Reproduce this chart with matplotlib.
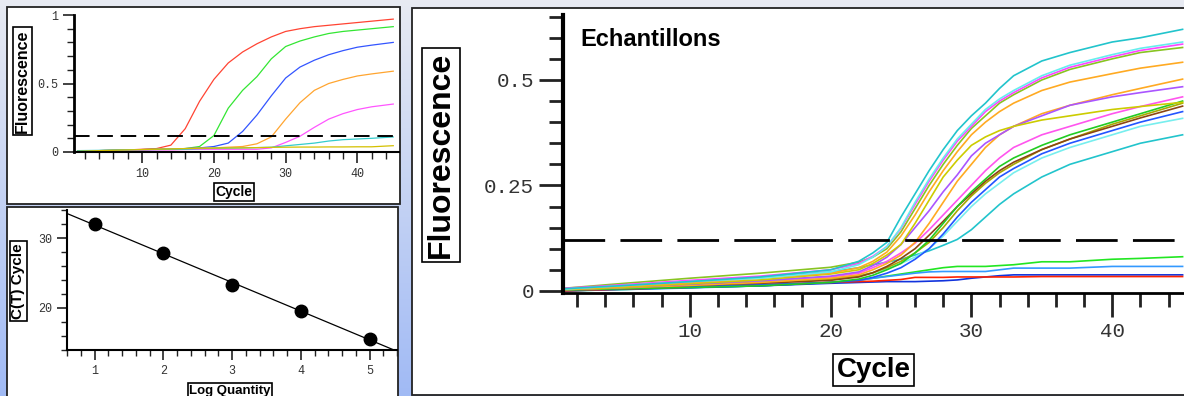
import numpy as np
import matplotlib
matplotlib.use("Agg")
import matplotlib.pyplot as plt
from matplotlib.patches import Rectangle
from matplotlib.ticker import MultipleLocator

# ---- top-left: standards amplification ----
cyc_std = [1, 4, 8, 12, 14, 16, 18, 20, 22, 24, 26, 28, 30, 32, 34, 36, 38, 40, 42, 45]
std_red = [0.005, 0.01, 0.015, 0.025, 0.05, 0.17, 0.37, 0.53, 0.65, 0.73, 0.79, 0.84, 0.88, 0.90, 0.915, 0.925, 0.935, 0.945, 0.955, 0.97]
std_green = [0.005, 0.01, 0.015, 0.02, 0.02, 0.025, 0.04, 0.12, 0.32, 0.45, 0.55, 0.68, 0.77, 0.81, 0.84, 0.865, 0.88, 0.89, 0.90, 0.915]
std_blue = [0.005, 0.01, 0.015, 0.02, 0.022, 0.025, 0.03, 0.04, 0.065, 0.15, 0.27, 0.41, 0.54, 0.62, 0.67, 0.71, 0.74, 0.765, 0.78, 0.80]
std_orange = [0.005, 0.01, 0.015, 0.02, 0.022, 0.025, 0.028, 0.03, 0.035, 0.04, 0.06, 0.11, 0.24, 0.36, 0.45, 0.50, 0.53, 0.555, 0.57, 0.59]
std_magenta = [0.005, 0.008, 0.01, 0.015, 0.015, 0.018, 0.02, 0.02, 0.02, 0.02, 0.02, 0.03, 0.07, 0.115, 0.18, 0.24, 0.28, 0.31, 0.33, 0.35]
std_cyan = [0.01, 0.012, 0.015, 0.018, 0.02, 0.02, 0.025, 0.027, 0.028, 0.03, 0.032, 0.035, 0.045, 0.055, 0.065, 0.08, 0.09, 0.095, 0.10, 0.11]
std_yellow = [0.005, 0.01, 0.015, 0.02, 0.022, 0.025, 0.027, 0.028, 0.03, 0.03, 0.032, 0.034, 0.035, 0.036, 0.036, 0.037, 0.037, 0.038, 0.038, 0.046]
std_colors = ["#ff4433", "#33e633", "#3355ff", "#ffa530", "#ff55ff", "#33cccc", "#d4c000"]
threshold = 0.12

# ---- bottom-left: standard curve ----
log_qty = [1, 2, 3, 4, 5]
ct_vals = [32.0, 27.8, 23.3, 19.6, 15.6]

# ---- right: samples ----
cyc_smp = [1, 5, 10, 15, 20, 22, 23, 24, 25, 26, 27, 28, 29, 30, 31, 32, 33, 35, 37, 40, 42, 45]
smp_cyan_top = [0.005, 0.012, 0.022, 0.033, 0.05, 0.07, 0.09, 0.115, 0.175, 0.23, 0.285, 0.335, 0.38, 0.415, 0.445, 0.48, 0.51, 0.545, 0.565, 0.59, 0.60, 0.62]
smp_ltcyan_a = [0.004, 0.012, 0.022, 0.03, 0.045, 0.062, 0.08, 0.105, 0.15, 0.21, 0.265, 0.315, 0.36, 0.395, 0.43, 0.455, 0.475, 0.51, 0.535, 0.56, 0.575, 0.59]
smp_magenta_a = [0.006, 0.014, 0.025, 0.035, 0.05, 0.065, 0.082, 0.105, 0.148, 0.205, 0.26, 0.31, 0.355, 0.39, 0.425, 0.45, 0.47, 0.505, 0.53, 0.555, 0.57, 0.585]
smp_olive_a = [0.006, 0.017, 0.03, 0.042, 0.056, 0.068, 0.08, 0.10, 0.14, 0.195, 0.25, 0.30, 0.345, 0.385, 0.415, 0.445, 0.465, 0.50, 0.525, 0.55, 0.565, 0.577]
smp_orange_a = [0.004, 0.01, 0.02, 0.03, 0.042, 0.055, 0.07, 0.092, 0.13, 0.18, 0.235, 0.285, 0.33, 0.37, 0.40, 0.425, 0.445, 0.475, 0.495, 0.515, 0.528, 0.542]
smp_yellow_b = [0.003, 0.008, 0.017, 0.026, 0.04, 0.05, 0.065, 0.085, 0.11, 0.16, 0.215, 0.27, 0.31, 0.345, 0.365, 0.38, 0.39, 0.405, 0.415, 0.43, 0.437, 0.447]
smp_purple_b = [0.003, 0.008, 0.016, 0.024, 0.035, 0.045, 0.06, 0.08, 0.11, 0.15, 0.19, 0.235, 0.275, 0.32, 0.35, 0.37, 0.39, 0.415, 0.44, 0.46, 0.47, 0.484]
smp_orange_b = [0.003, 0.007, 0.013, 0.02, 0.03, 0.038, 0.05, 0.065, 0.085, 0.115, 0.16, 0.21, 0.26, 0.30, 0.34, 0.37, 0.39, 0.42, 0.44, 0.465, 0.48, 0.502]
smp_magenta_c = [0.004, 0.01, 0.018, 0.025, 0.033, 0.042, 0.055, 0.07, 0.09, 0.113, 0.145, 0.18, 0.215, 0.25, 0.285, 0.315, 0.34, 0.37, 0.39, 0.42, 0.437, 0.46]
smp_green_d = [0.002, 0.005, 0.008, 0.012, 0.02, 0.028, 0.037, 0.05, 0.065, 0.09, 0.12, 0.16, 0.20, 0.235, 0.265, 0.295, 0.315, 0.345, 0.37, 0.40, 0.42, 0.45]
smp_brown_d = [0.003, 0.007, 0.013, 0.018, 0.025, 0.033, 0.043, 0.058, 0.077, 0.10, 0.132, 0.165, 0.20, 0.23, 0.26, 0.285, 0.305, 0.335, 0.36, 0.39, 0.41, 0.438]
smp_olive_d = [0.003, 0.008, 0.015, 0.02, 0.028, 0.035, 0.043, 0.055, 0.07, 0.09, 0.115, 0.15, 0.19, 0.225, 0.255, 0.28, 0.30, 0.335, 0.36, 0.395, 0.415, 0.445]
smp_blue_d = [0.002, 0.005, 0.01, 0.015, 0.02, 0.025, 0.032, 0.042, 0.055, 0.075, 0.10, 0.135, 0.175, 0.21, 0.24, 0.27, 0.29, 0.325, 0.35, 0.38, 0.40, 0.425]
smp_ltcyan_d = [0.004, 0.01, 0.017, 0.022, 0.03, 0.036, 0.043, 0.052, 0.065, 0.08, 0.10, 0.13, 0.165, 0.20, 0.23, 0.255, 0.28, 0.315, 0.34, 0.37, 0.39, 0.409]
smp_cyan_low = [0.005, 0.013, 0.023, 0.033, 0.045, 0.055, 0.062, 0.068, 0.075, 0.085, 0.095, 0.108, 0.122, 0.145, 0.175, 0.205, 0.23, 0.27, 0.30, 0.33, 0.35, 0.37]
smp_green_flat = [0.0, 0.003, 0.008, 0.012, 0.02, 0.025, 0.03, 0.035, 0.04, 0.045, 0.05, 0.055, 0.058, 0.058, 0.058, 0.06, 0.062, 0.069, 0.069, 0.075, 0.077, 0.081]
smp_ltblue_flat = [0.0, 0.003, 0.007, 0.012, 0.02, 0.025, 0.03, 0.034, 0.038, 0.042, 0.045, 0.046, 0.046, 0.046, 0.046, 0.05, 0.054, 0.054, 0.054, 0.058, 0.058, 0.058]
smp_blue_flat = [0.0, 0.004, 0.008, 0.012, 0.018, 0.02, 0.021, 0.022, 0.022, 0.022, 0.023, 0.024, 0.026, 0.03, 0.033, 0.036, 0.038, 0.038, 0.038, 0.038, 0.038, 0.038]
smp_red_flat = [0.0, 0.004, 0.009, 0.014, 0.02, 0.022, 0.023, 0.025, 0.027, 0.032, 0.032, 0.032, 0.033, 0.033, 0.033, 0.033, 0.033, 0.034, 0.034, 0.034, 0.034, 0.034]

samples = [
    (smp_green_flat, "#22e622"), (smp_ltblue_flat, "#3399ff"), (smp_blue_flat, "#1133dd"), (smp_red_flat, "#ff2200"),
    (smp_cyan_low, "#22c4cc"), (smp_ltcyan_d, "#77eeee"), (smp_blue_d, "#2255ff"), (smp_olive_d, "#a8a800"),
    (smp_brown_d, "#8b4513"), (smp_green_d, "#22cc22"), (smp_magenta_c, "#ff55ee"), (smp_orange_b, "#ffaa22"),
    (smp_purple_b, "#aa55ff"), (smp_yellow_b, "#cccc00"), (smp_orange_a, "#ffaa22"), (smp_olive_a, "#88c422"),
    (smp_magenta_a, "#ff44ff"), (smp_ltcyan_a, "#66eeee"), (smp_cyan_top, "#22c4cc"),
]

W, H = 1184, 396
fig = plt.figure(figsize=(W / 100, H / 100), dpi=100)

mono = "Liberation Mono"
bold_sans = dict(family="Liberation Sans", weight="bold")
box = dict(boxstyle="square,pad=0.12", fc="white", ec="black", lw=1.2)

# background gradient
bg = fig.add_axes([0, 0, 1, 1], zorder=-5)
grad = np.linspace(0, 1, 256)[:, None]
top_c = np.array([0.91, 0.92, 0.95])
bot_c = np.array([0.63, 0.73, 0.96])
img = top_c + (bot_c - top_c) * grad[..., None]
bg.imshow(img, aspect="auto", extent=[0, 1, 0, 1])
bg.set_axis_off()


def panel(x0, y0, x1, y1):
    # pixel box -> figure rectangle
    r = Rectangle((x0 / W, 1 - y1 / H), (x1 - x0) / W, (y1 - y0) / H,
                  transform=fig.transFigure, fc="white", ec="#222222", lw=1.3, zorder=-1)
    fig.add_artist(r)


panel(7, 7, 400, 204)
panel(7, 207, 398, 400)
panel(412, 8, 1190, 395)


def style_axes(ax, lw_left, lw_bottom):
    ax.set_facecolor("none")
    for s in ("top", "right"):
        ax.spines[s].set_visible(False)
    ax.spines["left"].set_linewidth(lw_left)
    ax.spines["bottom"].set_linewidth(lw_bottom)


# ---- top-left ----
ax1 = fig.add_axes([74 / W, 1 - 152 / H, 325 / W, 137 / H])
style_axes(ax1, 2.0, 1.5)
for vals, col in zip([std_red, std_green, std_blue, std_orange, std_magenta, std_cyan, std_yellow], std_colors):
    ax1.plot(cyc_std, vals, color=col, lw=0.9)
ax1.axhline(threshold, color="black", lw=1.4, ls=(0, (8, 4)))
ax1.set_xlim(0.5, 45.8)
ax1.set_ylim(0, 1)
ax1.xaxis.set_major_locator(MultipleLocator(10))
ax1.xaxis.set_minor_locator(MultipleLocator(2))
ax1.yaxis.set_minor_locator(MultipleLocator(0.1))
ax1.set_yticks([0, 0.5, 1])
ax1.set_yticklabels(["0", "0.5", "1"])
ax1.tick_params(which="major", length=8, width=1.2, labelsize=8.5, color="#222222", labelcolor="#333333")
ax1.tick_params(which="minor", length=5, width=1.0, color="#222222")
for lab in ax1.get_xticklabels() + ax1.get_yticklabels():
    lab.set_family(mono)
fig.text(22.5 / W, 1 - 81 / H, "Fluorescence", rotation=90, ha="center", va="center", fontsize=11.5, bbox=box, **bold_sans)
fig.text(234 / W, 1 - 192 / H, "Cycle", ha="center", va="center", fontsize=10, bbox=box, **bold_sans)

# ---- bottom-left ----
ax2 = fig.add_axes([67 / W, 1 - 350 / H, 330 / W, 140 / H])
style_axes(ax2, 1.5, 1.5)
ax2.set_xlim(0.6, 5.4)
ax2.set_ylim(14, 34)
slope, icpt = np.polyfit(log_qty, ct_vals, 1)
xl = np.array(ax2.get_xlim())
ax2.plot(xl, slope * xl + icpt, color="black", lw=0.9)
ax2.plot(log_qty, ct_vals, "o", color="black", ms=9)
ax2.xaxis.set_major_locator(MultipleLocator(1))
ax2.xaxis.set_minor_locator(MultipleLocator(0.2))
ax2.set_yticks([20, 30])
ax2.yaxis.set_minor_locator(MultipleLocator(2))
ax2.tick_params(which="major", length=7, width=1.2, labelsize=8.5, color="#222222", labelcolor="#333333")
ax2.tick_params(which="minor", length=4, width=1.0, color="#222222")
for lab in ax2.get_xticklabels() + ax2.get_yticklabels():
    lab.set_family(mono)
fig.text(18.5 / W, 1 - 281 / H, "C(T) Cycle", rotation=90, ha="center", va="center", fontsize=11, bbox=box, **bold_sans)
fig.text(230 / W, 1 - 391 / H, "Log Quantity", ha="center", va="center", fontsize=9.5, bbox=box, **bold_sans)

# ---- right ----
ax3 = fig.add_axes([563 / W, 1 - 293 / H, (W - 563) / W, 278 / H])
style_axes(ax3, 3.0, 2.0)
for vals, col in samples:
    ax3.plot(cyc_smp, vals, color=col, lw=1.2)
ax3.axhline(threshold, color="black", lw=2.0, ls=(0, (15, 5.5)))
ax3.set_xlim(1, 45.1)
ax3.set_ylim(-0.005, 0.654)
ax3.xaxis.set_major_locator(MultipleLocator(10))
ax3.xaxis.set_minor_locator(MultipleLocator(2))
ax3.set_yticks([0, 0.25, 0.5])
ax3.set_yticklabels(["0", "0.25", "0.5"])
ax3.yaxis.set_minor_locator(MultipleLocator(0.05))
ax3.tick_params(which="major", length=17, width=2.0, labelsize=15, color="#222222", labelcolor="#333333", pad=4)
ax3.tick_params(which="minor", length=10, width=2.0, color="#222222")
for lab in ax3.get_xticklabels() + ax3.get_yticklabels():
    lab.set_family(mono)
ax3.text(580 / W, 1 - 39 / H, "Echantillons", transform=fig.transFigure, ha="left", va="center", fontsize=17, **bold_sans)
fig.text(441 / W, 1 - 155 / H, "Fluorescence", rotation=90, ha="center", va="center", fontsize=23, bbox=box, **bold_sans)
fig.text(873.5 / W, 1 - 370 / H, "Cycle", ha="center", va="center", fontsize=20, bbox=box, **bold_sans)

fig.savefig("out.png", dpi=100)
